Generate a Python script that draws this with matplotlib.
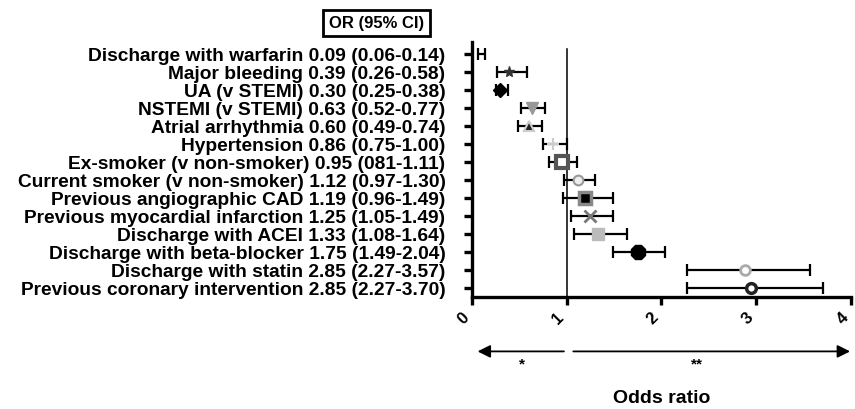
import matplotlib
matplotlib.use("Agg")
import matplotlib.pyplot as plt

# rows top to bottom, text exactly as in the original figure
labels = [
    "Discharge with warfarin 0.09 (0.06-0.14)",
    "Major bleeding 0.39 (0.26-0.58)",
    "UA (v STEMI) 0.30 (0.25-0.38)",
    "NSTEMI (v STEMI) 0.63 (0.52-0.77)",
    "Atrial arrhythmia 0.60 (0.49-0.74)",
    "Hypertension 0.86 (0.75-1.00)",
    "Ex-smoker (v non-smoker) 0.95 (081-1.11)",
    "Current smoker (v non-smoker) 1.12 (0.97-1.30)",
    "Previous angiographic CAD 1.19 (0.96-1.49)",
    "Previous myocardial infarction 1.25 (1.05-1.49)",
    "Discharge with ACEI 1.33 (1.08-1.64)",
    "Discharge with beta-blocker 1.75 (1.49-2.04)",
    "Discharge with statin 2.85 (2.27-3.57)",
    "Previous coronary intervention 2.85 (2.27-3.70)",
]
odds = [0.09, 0.39, 0.30, 0.63, 0.60, 0.86, 0.95, 1.12, 1.19, 1.25, 1.33, 1.75, 2.88, 2.94]
ci_low = [0.06, 0.26, 0.25, 0.52, 0.49, 0.75, 0.81, 0.97, 0.96, 1.05, 1.08, 1.49, 2.27, 2.27]
ci_high = [0.14, 0.58, 0.38, 0.77, 0.74, 1.00, 1.11, 1.30, 1.49, 1.49, 1.64, 2.04, 3.57, 3.70]
xticks = [0, 1, 2, 3, 4]

# one symbol style per row (prism-like)
markers = ["none", "*", "D", "v", "^", "+", "s", "o", "s", "x", "s", "8", "o", "o"]
face = ["none", "#333333", "black", "#999999", "#222222", "#cccccc", "white",
        "#eeeeee", "black", "#777777", "#bbbbbb", "black", "white", "white"]
edge = ["none", "#333333", "black", "#999999", "#cccccc", "#cccccc", "#555555",
        "#999999", "#888888", "#777777", "#bbbbbb", "black", "#aaaaaa", "#222222"]
msize = [0, 8, 7, 8, 7, 9, 8, 7, 9, 8, 9, 11, 7, 7]
medge = [0, 1, 1, 1, 1.5, 1.5, 3, 1.5, 2.5, 2, 1, 1, 2, 2.5]

plt.rcParams["font.family"] = ["Liberation Sans", "DejaVu Sans"]
plt.rcParams["font.weight"] = "bold"

fig = plt.figure(figsize=(8.55, 4.1), dpi=100)
ax = fig.add_axes([0.552, 0.2739, 0.4433, 0.6205])

rows = list(range(len(labels)))
for i in rows:
    ax.errorbar(odds[i], i, xerr=[[odds[i] - ci_low[i]], [ci_high[i] - odds[i]]],
                fmt="none", ecolor="black", elinewidth=1.6, capsize=4.5, capthick=1.6, zorder=2)
    if markers[i] != "none":
        ax.plot(odds[i], i, marker=markers[i], ms=msize[i], mfc=face[i], mec=edge[i],
                mew=medge[i], linestyle="none", zorder=3)

ax.axvline(1, ymin=0, ymax=0.974, color="black", lw=1.1, zorder=1)

ax.set_xlim(0, 4)
ax.set_ylim(len(labels) - 0.5, -0.65)
ax.set_yticks(rows)
ax.set_yticklabels(labels, fontsize=13.8, fontweight="bold")
ax.set_xticks(xticks)
ax.set_xticklabels([str(t) for t in xticks], rotation=45, ha="right", fontsize=12,
                   fontweight="bold")

for s in ["top", "right"]:
    ax.spines[s].set_visible(False)
for s in ["left", "bottom"]:
    ax.spines[s].set_linewidth(2.4)
ax.tick_params(axis="y", width=2.4, length=6, pad=13)
ax.tick_params(axis="x", width=2.4, length=6, pad=3)

# direction arrows under the axis
tr = ax.get_xaxis_transform()
ax.annotate("", xy=(0.03, -0.215), xytext=(1.0, -0.215), xycoords=tr, textcoords=tr,
            arrowprops=dict(arrowstyle="-|>", mutation_scale=19, lw=1.3, color="black"),
            annotation_clip=False)
ax.annotate("", xy=(4.02, -0.215), xytext=(1.04, -0.215), xycoords=tr, textcoords=tr,
            arrowprops=dict(arrowstyle="-|>", mutation_scale=19, lw=1.3, color="black"),
            annotation_clip=False)
ax.text(0.53, -0.262, "*", transform=tr, ha="center", va="center", fontsize=11, fontweight="bold")
ax.text(2.37, -0.262, "**", transform=tr, ha="center", va="center", fontsize=11, fontweight="bold")
ax.text(2.0, -0.398, "Odds ratio", transform=tr, ha="center", va="center", fontsize=14,
        fontweight="bold")

fig.text(0.44, 0.9415, "OR (95% CI)", ha="center", va="center", fontsize=12, fontweight="bold",
         bbox=dict(boxstyle="square,pad=0.35", fc="white", ec="black", lw=2))

fig.savefig("out.png", dpi=100)
